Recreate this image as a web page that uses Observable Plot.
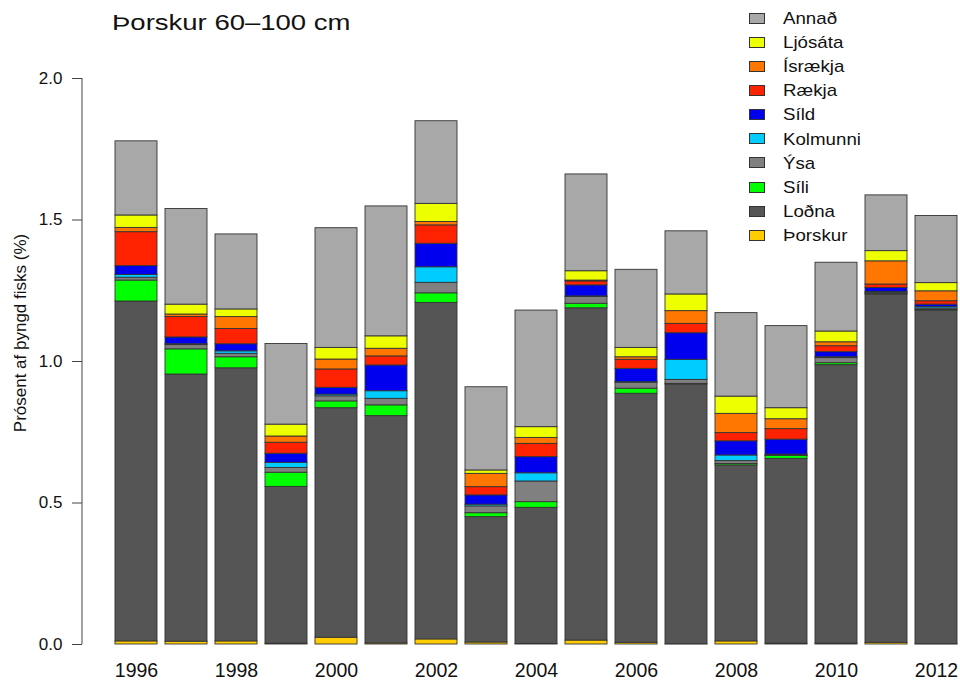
<!DOCTYPE html>
<html><head><meta charset="utf-8">
<script src="https://cdn.jsdelivr.net/npm/d3@7"></script>
<script src="https://cdn.jsdelivr.net/npm/@observablehq/plot@0.6"></script>
<style>
body{margin:0;background:#fff;font-family:"Liberation Sans",Arial,sans-serif;}
#wrap{position:relative;width:960px;height:689px;overflow:hidden;}
#title{position:absolute;left:112px;top:12px;font-size:22px;line-height:22px;transform:scaleX(1.25);transform-origin:0 0;color:#111;white-space:nowrap;}
#ytitle{position:absolute;left:20px;top:333px;font-size:17px;line-height:17px;white-space:nowrap;color:#111;transform:translate(-50%,-50%) rotate(-90deg);}
.sw{position:absolute;width:16px;height:11px;border:1px solid #333;box-sizing:border-box;}
.lt{position:absolute;font-size:17px;line-height:17px;white-space:nowrap;color:#111;transform:scaleX(1.1);transform-origin:0 0;}
</style>
</head><body>
<div id="wrap"></div>
<script>
const years = [1996,1997,1998,1999,2000,2001,2002,2003,2004,2005,2006,2007,2008,2009,2010,2011,2012];
const yearLabels = [1996,1998,2000,2002,2004,2006,2008,2010,2012];
const yTicks = [0,0.5,1,1.5,2];

// stacking order, bottom to top
const species = ["Þorskur","Loðna","Síli","Ýsa","Kolmunni","Síld","Rækja","Ísrækja","Ljósáta","Annað"];
const colors  = ["#ffcc00","#555555","#00ff00","#808080","#00ccff","#0000ee","#ff2200","#ff7700","#eeff00","#a8a8a8"];

const thorskur = [0.011,0.010,0.011,0.003,0.024,0.004,0.018,0.007,0.002,0.014,0.006,0.001,0.011,0.003,0.003,0.006,0.001];
const lodna    = [1.201,0.944,0.965,0.554,0.811,0.803,1.189,0.443,0.481,1.174,0.880,0.918,0.622,0.653,0.984,1.231,1.179];
const sili     = [0.074,0.089,0.039,0.050,0.024,0.038,0.034,0.014,0.020,0.016,0.018,0.002,0.005,0.010,0.007,0.002,0.002];
const ysa      = [0.010,0.015,0.012,0.017,0.018,0.023,0.037,0.024,0.073,0.024,0.021,0.014,0.010,0.003,0.018,0.004,0.005];
const kolmunni = [0.010,0.003,0.009,0.018,0.006,0.027,0.055,0.006,0.029,0.002,0.002,0.071,0.020,0.002,0.003,0.003,0.005];
const sild     = [0.031,0.024,0.025,0.032,0.024,0.091,0.083,0.033,0.057,0.039,0.047,0.094,0.050,0.053,0.018,0.014,0.009];
const raekja   = [0.120,0.072,0.054,0.039,0.065,0.032,0.065,0.029,0.047,0.014,0.032,0.033,0.029,0.037,0.021,0.012,0.012];
const israekja = [0.015,0.009,0.042,0.022,0.035,0.027,0.012,0.047,0.021,0.003,0.009,0.045,0.068,0.035,0.014,0.082,0.035];
const ljosata  = [0.044,0.035,0.027,0.042,0.041,0.044,0.064,0.012,0.038,0.033,0.033,0.059,0.061,0.039,0.038,0.036,0.029];
const annad    = [0.262,0.338,0.265,0.285,0.423,0.459,0.292,0.294,0.412,0.342,0.276,0.223,0.295,0.290,0.243,0.197,0.237];

const series = [thorskur,lodna,sili,ysa,kolmunni,sild,raekja,israekja,ljosata,annad];
const data = [];
species.forEach((s,si)=>years.forEach((y,yi)=>data.push({year:y, species:s, value:series[si][yi]})));

const chart = Plot.plot({
  width:960, height:689,
  marginLeft:82, marginRight:3, marginTop:78, marginBottom:45,
  style:{fontFamily:"'Liberation Sans', Arial, sans-serif", color:"#111", background:"#fff"},
  x:{type:"band", domain:years, range:[115,957], paddingInner:0.1667, paddingOuter:0, axis:null},
  y:{domain:[0,2], axis:null},
  color:{domain:species, range:colors},
  marks:[
    Plot.barY(data,{x:"year", y:"value", fill:"species", order:species, stroke:"#333", strokeWidth:0.9}),
    Plot.axisY({ticks:yTicks, tickFormat:d=>d.toFixed(1), tickSize:10, tickPadding:10, fontSize:17, label:null, stroke:"#444"}),
    Plot.axisX({ticks:yearLabels, tickFormat:d=>String(d), tickSize:0, tickPadding:19, fontSize:19.5, label:null})
  ]
});

const svg = d3.select(chart);
const ys = chart.scale("y");
svg.append("line").attr("x1",82).attr("x2",82).attr("y1",ys.apply(0)).attr("y2",ys.apply(2)).attr("stroke","#444").attr("stroke-width",1);

const wrap = document.getElementById("wrap");
wrap.appendChild(chart);
chart.style.position="absolute"; chart.style.left="0"; chart.style.top="0";

const title=document.createElement("div"); title.id="title"; title.textContent="Þorskur 60–100 cm"; wrap.appendChild(title);
const yt=document.createElement("div"); yt.id="ytitle"; yt.textContent="Prósent af þyngd fisks (%)"; wrap.appendChild(yt);

// legend: top (Annað) to bottom (Þorskur)
const legendItems = species.map((s,i)=>({s, c:colors[i]})).reverse();
legendItems.forEach((d,i)=>{
  const cy = 18.3 + i*24.1;
  const sw=document.createElement("div"); sw.className="sw";
  sw.style.left="749px"; sw.style.top=(cy-5.5)+"px"; sw.style.background=d.c; wrap.appendChild(sw);
  const lt=document.createElement("div"); lt.className="lt"; lt.textContent=d.s;
  lt.style.left="783px"; lt.style.top=(cy-8.3)+"px"; wrap.appendChild(lt);
});
</script>
</body></html>
